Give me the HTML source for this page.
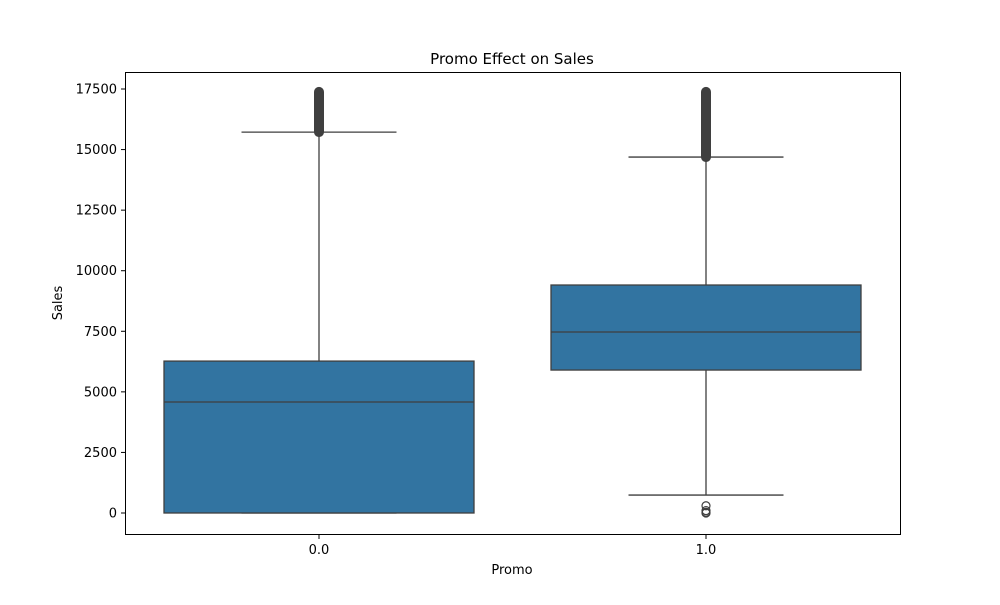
<!DOCTYPE html>
<html><head><meta charset="utf-8"><style>
html,body{margin:0;padding:0;background:#fff;}
svg text{font-family:"DejaVu Sans","Liberation Sans",sans-serif;fill:#000;}
</style></head><body>
<svg id="chart" width="1000" height="600" viewBox="0 0 1000 600">
<rect width="1000" height="600" fill="#fff"/>
<text x="512" y="64" font-size="15" text-anchor="middle">Promo Effect on Sales</text>
<g id="plot"></g>
<rect x="125.5" y="72.5" width="775" height="462" fill="none" stroke="#000" stroke-width="1"/>
<text x="512" y="574" font-size="13" text-anchor="middle">Promo</text>
<text x="0" y="0" font-size="13" text-anchor="middle" transform="translate(62,303) rotate(-90)">Sales</text>
</svg>
<script>
const categories = ["0.0", "1.0"];
const q1 = [0, 5900];
const medians = [4580, 7470];
const q3 = [6270, 9410];
const whiskerLow = [0, 740];
const whiskerHigh = [15720, 14690];
const outlierLow = [[], [0, 30, 100, 300]];
const outlierHighMin = [15720, 14690];
const outlierHighMax = [17380, 17380];
const yTicks = [0, 2500, 5000, 7500, 10000, 12500, 15000, 17500];

const NS = "http://www.w3.org/2000/svg";
const g = document.getElementById("plot");
const y = v => 513 - v * (424 / 17500);
const xc = i => 319 + i * 387;
const halfW = 155, capW = 77.5;
function mk(tag, attrs, parent) {
  const e = document.createElementNS(NS, tag);
  for (const k in attrs) e.setAttribute(k, attrs[k]);
  (parent || g).appendChild(e);
  return e;
}
yTicks.forEach(t => {
  const l = mk("line", {x1: 121, x2: 125.5, y1: y(t), y2: y(t), stroke: "#000"});
  
  
  const tx = mk("text", {x: 117, y: y(t) + 4.5, "font-size": 13, "text-anchor": "end"});
  tx.textContent = t;
  
  
});
categories.forEach((c, i) => {
  const x = xc(i);
  const l = mk("line", {x1: x, x2: x, y1: 534.5, y2: 539, stroke: "#000"});
  
  
  const tx = mk("text", {x: x, y: 554, "font-size": 13, "text-anchor": "middle"});
  tx.textContent = c;
  
  
  const st = {stroke: "#3f3f3f", "stroke-width": 1.3};
  const w1 = mk("line", Object.assign({x1: x, x2: x, y1: y(q3[i]), y2: y(whiskerHigh[i])}, st));
  
  
  const w2 = mk("line", Object.assign({x1: x, x2: x, y1: y(q1[i]), y2: y(whiskerLow[i])}, st));
  
  
  const c1 = mk("line", Object.assign({x1: x - capW, x2: x + capW, y1: y(whiskerHigh[i]), y2: y(whiskerHigh[i])}, st));
  
  
  const c2 = mk("line", Object.assign({x1: x - capW, x2: x + capW, y1: y(whiskerLow[i]), y2: y(whiskerLow[i])}, st));
  
  
  const b = mk("rect", {x: x - halfW, y: y(q3[i]), width: 2 * halfW, height: Math.max(y(q1[i]) - y(q3[i]), 0.1), fill: "#3274a1", stroke: "#3f3f3f", "stroke-width": 1.3});
  
  
  const m = mk("line", Object.assign({x1: x - halfW, x2: x + halfW, y1: y(medians[i]), y2: y(medians[i])}, st));
  
  
  const o = mk("rect", {x: x - 4.5, y: y(outlierHighMax[i]) - 4.5, width: 9, height: y(outlierHighMin[i]) - y(outlierHighMax[i]) + 9, rx: 4.5, fill: "#3f3f3f", stroke: "#3f3f3f"});
  
  
  outlierLow[i].forEach(v => {
    const p = mk("circle", {cx: x, cy: y(v), r: 4, fill: "none", stroke: "#3f3f3f", "stroke-width": 1.2});
    
    
  });
});
</script>
</body></html>
